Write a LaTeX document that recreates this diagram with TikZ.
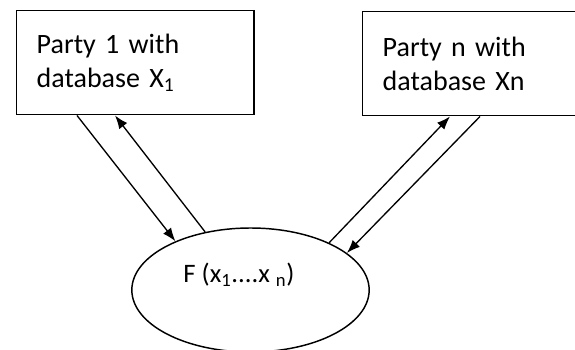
\documentclass[tikz,border=0pt]{standalone}
\usepackage{fontspec}
\setmainfont{Carlito}
\usetikzlibrary{calc}
\usetikzlibrary{positioning}
\usetikzlibrary{shapes.geometric}
\usetikzlibrary{arrows.meta}

\begin{document}
\begin{tikzpicture}[x=0.75pt,y=-0.75pt,
    party/.style={draw,line width=1.1pt,anchor=north west,align=left,
      text width=148pt,inner xsep=15pt,minimum height=78pt,
      font=\fontsize{21}{25.5}\selectfont},
    func/.style={draw,ellipse,line width=1.1pt,minimum width=178pt,minimum height=93pt},
    msg/.style={line width=1pt,-{Latex[length=10pt,width=7.5pt]}}]
    \clip (0,0) rectangle (575,350);

    \node [party] (p1) at (16,10) {Party 1 with\\database X\textsubscript{1}};
    \node [party] (pn) at (362,11) {Party n with\\database Xn};

    \node [func] (f) at (250.5,290) {};
    \node [font=\fontsize{20}{24}\selectfont] (ftext) at ($(f.center)+(-11.5,-15)$)
          {F (x\textsubscript{1}....x \textsubscript{n})};

    \draw [msg] ($(p1.south west)+(61,0)$) -- (f.147.6);
    \draw [msg] (f.128) -- ($(p1.south west)+(99,0)$);
    \draw [msg] (f.31.4) -- ($(pn.south west)+(88,0)$);
    \draw [msg] ($(pn.south west)+(118,0)$) -- (f.21);

\end{tikzpicture}
\end{document}
